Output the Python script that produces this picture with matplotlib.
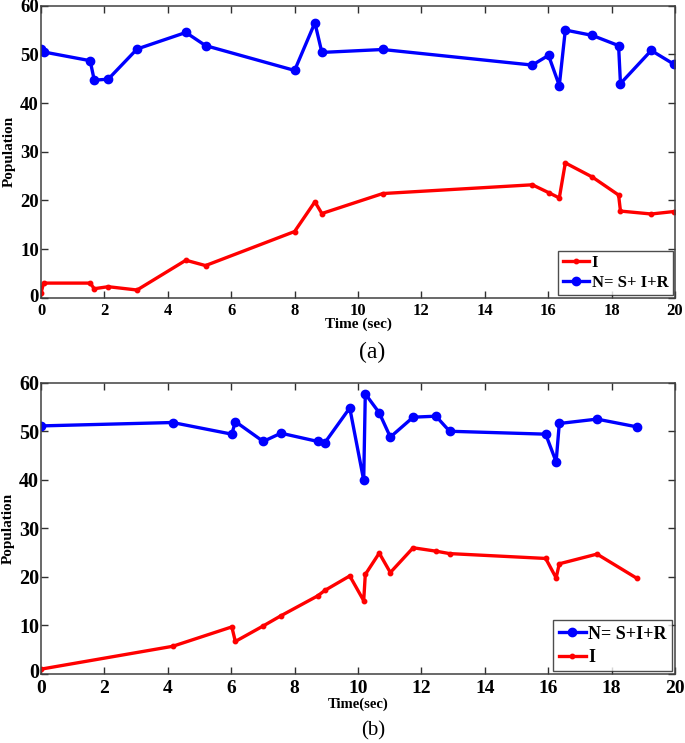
import matplotlib
matplotlib.use("Agg")
import matplotlib.pyplot as plt
import matplotlib.transforms as mtransforms

plt.rcParams['font.family'] = ['Liberation Serif', 'DejaVu Serif']

# Panel (a)
t_a = [0.0, 0.08, 1.55, 1.68, 2.12, 3.03, 4.57, 5.19, 8.0, 8.64, 8.86, 10.78,
       15.5, 16.01, 16.35, 16.54, 17.39, 18.22, 18.28, 19.25, 19.96]
N_a = [51.1, 50.5, 48.7, 44.7, 44.9, 51.1, 54.5, 51.8, 46.7, 56.5, 50.4, 51.0,
       47.8, 49.8, 43.6, 55.0, 53.9, 51.8, 44.0, 50.8, 48.0]
I_a = [0.9, 3.0, 3.0, 1.85, 2.26, 1.58, 7.7, 6.6, 13.6, 19.7, 17.3, 21.4,
       23.2, 21.6, 20.5, 27.7, 24.8, 21.1, 17.8, 17.2, 17.7]

# Panel (b)
t_b = [0.0, 4.15, 6.02, 6.13, 7.01, 7.57, 8.73, 8.95, 9.74, 10.18, 10.23, 10.67,
       11.02, 11.74, 12.46, 12.89, 15.92, 16.25, 16.35, 17.54, 18.8]
N_b = [51.1, 51.8, 49.4, 52.0, 47.9, 49.6, 47.9, 47.6, 54.8, 39.9, 57.7, 53.8,
       48.8, 52.9, 53.1, 50.0, 49.4, 43.7, 51.6, 52.5, 50.9]
I_b = [1.0, 5.7, 9.7, 6.7, 9.9, 12.0, 16.1, 17.2, 20.2, 15.1, 20.5, 24.9,
       20.9, 26.0, 25.3, 24.8, 23.8, 19.8, 22.7, 24.7, 19.7]

x_ticks = [0, 2, 4, 6, 8, 10, 12, 14, 16, 18, 20]
y_ticks = [0, 10, 20, 30, 40, 50, 60]

W, H = 685, 743
fig = plt.figure(figsize=(W / 100, H / 100), dpi=100)

def add_ax(left, top, right, bottom):
    return fig.add_axes([left / W, 1 - bottom / H, (right - left) / W, (bottom - top) / H])

ax1 = add_ax(41, 5.7, 675, 297.7)
ax2 = add_ax(41, 382.7, 675, 674)

def style(ax, xfs, yfs, xpad):
    ax.set_xlim(0, 20)
    ax.set_ylim(0, 60)
    ax.set_xticks(x_ticks)
    ax.set_yticks(y_ticks)
    ax.tick_params(direction='in', top=True, right=True, length=5, width=1, color='#303030')
    ax.tick_params(axis='x', pad=xpad)
    ax.tick_params(axis='y', pad=1.5)
    for lab in ax.get_xticklabels():
        lab.set_fontweight('bold'); lab.set_fontsize(xfs)
    for lab in ax.get_yticklabels():
        lab.set_fontweight('bold'); lab.set_fontsize(yfs)
    for s in ax.spines.values():
        s.set_color('#404040'); s.set_linewidth(1.1)
    ax.set_ylabel('Population', fontweight='bold', fontsize=11, labelpad=3)

# (a)
lI_a, = ax1.plot(t_a, I_a, color='#ff0000', lw=2.4, marker='o', ms=3.2, label='I')
lN_a, = ax1.plot(t_a, N_a, color='#0000ff', lw=2.4, marker='o', ms=6, label='N= S+ I+R')
style(ax1, 12, 13.5, 3.5)
ax1.set_xlabel('Time (sec)', fontweight='bold', fontsize=11, labelpad=-1)
leg1 = ax1.legend(handles=[lI_a, lN_a], loc='lower right', frameon=True, fancybox=False,
                  edgecolor='#202020', borderaxespad=0.15, handlelength=1.6, handletextpad=0.15,
                  borderpad=0.25, labelspacing=0.25, prop={'weight': 'bold', 'size': 12})
leg1.get_frame().set_linewidth(1.0)

# (b)
lN_b, = ax2.plot(t_b, N_b, color='#0000ff', lw=2.4, marker='o', ms=6, label='N= S+I+R')
lI_b, = ax2.plot(t_b, I_b, color='#ff0000', lw=2.4, marker='o', ms=3.2, label='I')
style(ax2, 14, 14.5, 4)
ax2.set_xlabel('Time(sec)', fontweight='bold', fontsize=10.5, labelpad=0.5)
leg2 = ax2.legend(handles=[lN_b, lI_b], loc='lower right', frameon=True, fancybox=False,
                  edgecolor='#202020', borderaxespad=0.15, handlelength=1.5, handletextpad=0.15,
                  borderpad=0.3, labelspacing=0.35, prop={'weight': 'bold', 'size': 13})
leg2.get_frame().set_linewidth(1.0)

# nudge the corner "0" labels apart slightly
for ax, dy in ((ax1, 2), (ax2, 4)):
    lab0 = ax.yaxis.get_major_ticks()[0].label1
    lab0.set_transform(lab0.get_transform() +
                       mtransforms.ScaledTranslation(0, dy / 100, fig.dpi_scale_trans))

fig.text(372 / W, 1 - 352 / H, '(a)', ha='center', va='center', fontsize=17)
fig.text(373 / W, 1 - 731 / H, '(b)', ha='center', va='center', fontsize=15)

fig.savefig('out.png', dpi=100, facecolor='white')
